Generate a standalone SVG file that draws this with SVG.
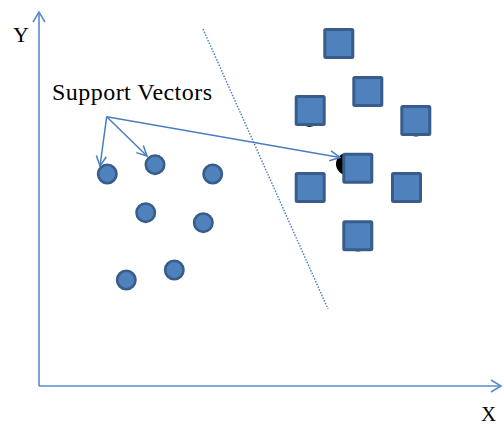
<svg xmlns="http://www.w3.org/2000/svg" width="504" height="428" viewBox="0 0 504 428">
<defs>
<style>
.ax{stroke:#5B8BCB;stroke-width:1.6;fill:none}
.ar{stroke:#4A7EC0;stroke-width:1.5;fill:none}
.c{fill:#4F81BD;stroke:#385D8A;stroke-width:2.6}
.s{fill:#4F81BD;stroke:#385D8A;stroke-width:3}
.b{fill:#000}
.t{font-family:"Liberation Serif","Times New Roman",serif;fill:#000}
</style>
<marker id="oa" viewBox="0 0 12 12" refX="11" refY="6" markerWidth="12" markerHeight="12" markerUnits="userSpaceOnUse" orient="auto">
<path d="M1,1 L11,6 L1,11" fill="none" stroke="#4A7EC0" stroke-width="1.5"/>
</marker>
<marker id="axa" viewBox="0 0 14 14" refX="12" refY="7" markerWidth="14" markerHeight="14" markerUnits="userSpaceOnUse" orient="auto">
<path d="M2,1 L12,7 L2,13" fill="none" stroke="#5B8BCB" stroke-width="1.6"/>
</marker>
</defs>
<g id="axes">
<line class="ax" x1="39" y1="386" x2="39" y2="12" marker-end="url(#axa)"/>
<line class="ax" x1="39" y1="386" x2="501" y2="386" marker-end="url(#axa)"/>
</g>
<text class="t" x="13" y="42" font-size="22">Y</text>
<text class="t" x="481" y="421" font-size="21">X</text>
<line id="hyperplane" x1="203" y1="29" x2="328" y2="309" stroke="#4F81BD" stroke-width="1.5" stroke-dasharray="1.5 1.5"/>
<g id="circles">
<circle class="c" cx="107.3" cy="174" r="9.2"/>
<circle class="c" cx="155" cy="164.7" r="9.2"/>
<circle class="c" cx="212.7" cy="174" r="9.2"/>
<circle class="c" cx="145.7" cy="212.7" r="9.2"/>
<circle class="c" cx="203.3" cy="222.7" r="9.2"/>
<circle class="c" cx="126.3" cy="280" r="9.2"/>
<circle class="c" cx="174.3" cy="270" r="9.2"/>
</g>
<g id="hidden">
<circle class="b" cx="309.5" cy="118" r="9"/>
<circle class="b" cx="416" cy="127" r="9.5"/>
<circle class="b" cx="347" cy="164" r="11"/>
<circle class="b" cx="358" cy="242" r="9.5"/>
</g>
<g id="squares">
<rect class="s" x="324.8" y="29.5" width="28" height="28" rx="1"/>
<rect class="s" x="353.8" y="77.5" width="28" height="28" rx="1"/>
<rect class="s" x="296.2" y="96.5" width="28" height="28" rx="1"/>
<rect class="s" x="401.8" y="106.5" width="28" height="28" rx="1"/>
<rect class="s" x="343.8" y="154.2" width="28" height="28" rx="1"/>
<rect class="s" x="296.2" y="173.5" width="28" height="28" rx="1"/>
<rect class="s" x="392.5" y="173.5" width="28" height="28" rx="1"/>
<rect class="s" x="343.8" y="221.8" width="28" height="28" rx="1"/>
</g>
<text class="t" x="52" y="100" font-size="24" textLength="160">Support Vectors</text>
<g id="connectors">
<line class="ar" x1="106.7" y1="116.7" x2="100" y2="166" marker-end="url(#oa)"/>
<line class="ar" x1="106.7" y1="116.7" x2="147" y2="156" marker-end="url(#oa)"/>
<line class="ar" x1="106.7" y1="116.7" x2="340" y2="157.5" marker-end="url(#oa)"/>
</g>
</svg>
